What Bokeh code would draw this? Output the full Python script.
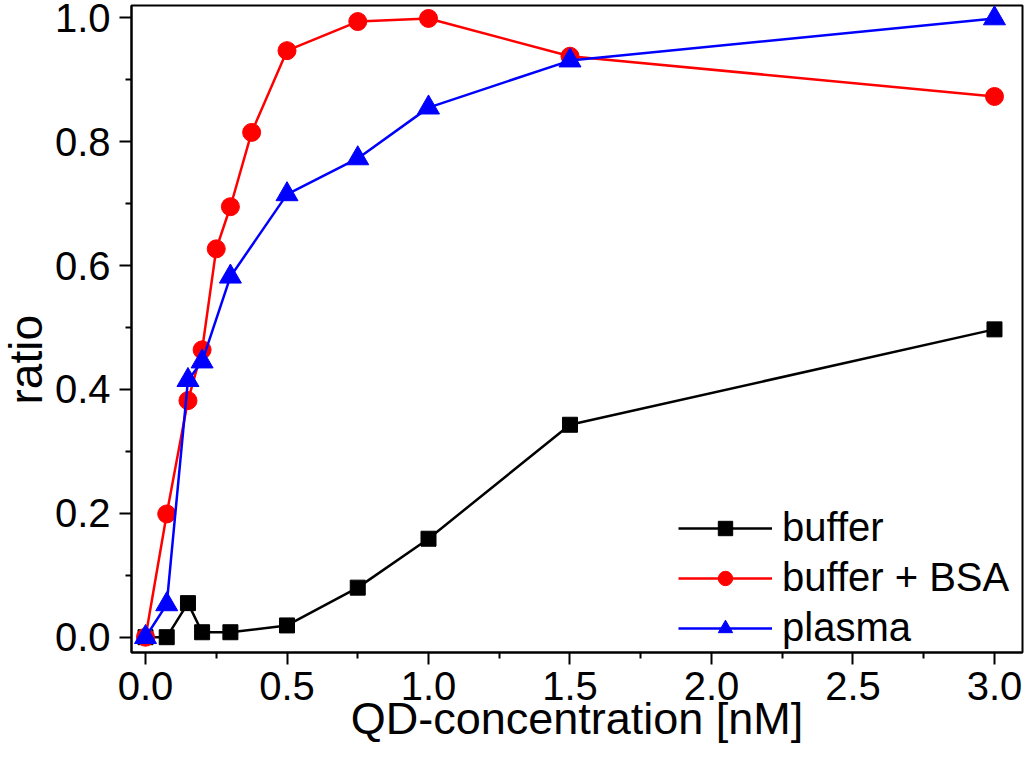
from bokeh.plotting import figure
from bokeh.models import (Range1d, FixedTicker, PrintfTickFormatter, Legend,
                          LegendItem, Title)
from bokeh.embed import file_html
from bokeh.resources import INLINE

# ---- data ----
x_buffer = [0.0, 0.075, 0.15, 0.2, 0.3, 0.5, 0.75, 1.0, 1.5, 3.0]
y_buffer = [0.0, 0.0, 0.055, 0.008, 0.008, 0.019, 0.08, 0.159, 0.343, 0.497]

x_bsa = [0.0, 0.075, 0.15, 0.2, 0.25, 0.3, 0.375, 0.5, 0.75, 1.0, 1.5, 3.0]
y_bsa = [0.0, 0.199, 0.382, 0.464, 0.627, 0.695, 0.815, 0.947, 0.994, 0.999, 0.938, 0.873]

x_plasma = [0.0, 0.075, 0.15, 0.2, 0.3, 0.5, 0.75, 1.0, 1.5, 3.0]
y_plasma = [0.0, 0.053, 0.415, 0.445, 0.582, 0.715, 0.773, 0.855, 0.931, 0.999]

x_ticks = [0.0, 0.5, 1.0, 1.5, 2.0, 2.5, 3.0]
x_minor = [0.25, 0.75, 1.25, 1.75, 2.25, 2.75]
y_ticks = [0.0, 0.2, 0.4, 0.6, 0.8, 1.0]
y_minor = [0.1, 0.3, 0.5, 0.7, 0.9]

series_names = ["buffer", "buffer + BSA", "plasma"]
x_title = "QD-concentration [nM]"
y_title = "ratio"

FONT = "Liberation Sans"

p = figure(width=1024, height=772, output_backend="svg", toolbar_location=None,
           x_range=Range1d(-0.0495, 3.099), y_range=Range1d(-0.0247, 1.0199),
           min_border_left=131, min_border_right=2, min_border_top=5,
           min_border_bottom=120)

p.background_fill_color = "white"
p.border_fill_color = "white"
p.outline_line_color = "black"
p.outline_line_width = 2
p.xgrid.visible = False
p.ygrid.visible = False

for ax in (p.xaxis[0], p.yaxis[0]):
    ax.axis_line_width = 2
    ax.axis_line_color = "black"
    ax.major_tick_line_width = 2
    ax.minor_tick_line_width = 2
    ax.major_tick_line_color = "black"
    ax.minor_tick_line_color = "black"
    ax.major_tick_out = 12
    ax.major_tick_in = 0
    ax.minor_tick_out = 6
    ax.minor_tick_in = 0
    ax.major_label_text_font = FONT
    ax.major_label_text_font_size = "40px"
    ax.major_label_text_color = "black"
    ax.formatter = PrintfTickFormatter(format="%.1f")

p.xaxis[0].ticker = FixedTicker(ticks=x_ticks, minor_ticks=x_minor)
p.yaxis[0].ticker = FixedTicker(ticks=y_ticks, minor_ticks=y_minor)
p.yaxis[0].major_label_standoff = 9
p.xaxis[0].major_label_standoff = 7

p.xaxis[0].axis_label = x_title
p.xaxis[0].axis_label_text_font = FONT
p.xaxis[0].axis_label_text_font_size = "45px"
p.xaxis[0].axis_label_text_font_style = "normal"
p.xaxis[0].axis_label_text_color = "black"
p.xaxis[0].axis_label_standoff = -10

ylab = Title(text=y_title, align="left", vertical_align="top", offset=248,
             text_font=FONT, text_font_size="46px", text_font_style="normal",
             text_color="black", standoff=-4)
p.add_layout(ylab, "left")

r1l = p.line(x_buffer, y_buffer, line_color="black", line_width=2.5)
r1m = p.scatter(x_buffer, y_buffer, marker="square", size=15,
                fill_color="black", line_color="black")
r2l = p.line(x_bsa, y_bsa, line_color="#ff0000", line_width=2.5)
r2m = p.scatter(x_bsa, y_bsa, marker="circle", size=18,
                fill_color="#ff0000", line_color="#ff0000")
r3l = p.line(x_plasma, y_plasma, line_color="#0000ff", line_width=2.5)
r3m = p.scatter(x_plasma, y_plasma, marker="triangle", size=22,
                fill_color="#0000ff", line_color="#0000ff")

legend = Legend(items=[
    LegendItem(label=series_names[0], renderers=[r1l, r1m]),
    LegendItem(label=series_names[1], renderers=[r2l, r2m]),
    LegendItem(label=series_names[2], renderers=[r3l, r3m]),
], location=(547, 2))
legend.background_fill_alpha = 0
legend.border_line_alpha = 0
legend.padding = 0
legend.margin = 0
legend.spacing = 5
legend.glyph_width = 94
legend.glyph_height = 36
legend.label_height = 36
legend.label_standoff = 10
legend.label_text_font = FONT
legend.label_text_font_size = "40px"
legend.label_text_color = "black"
p.add_layout(legend, "center")

open("out.html", "w").write(file_html(p, INLINE))
